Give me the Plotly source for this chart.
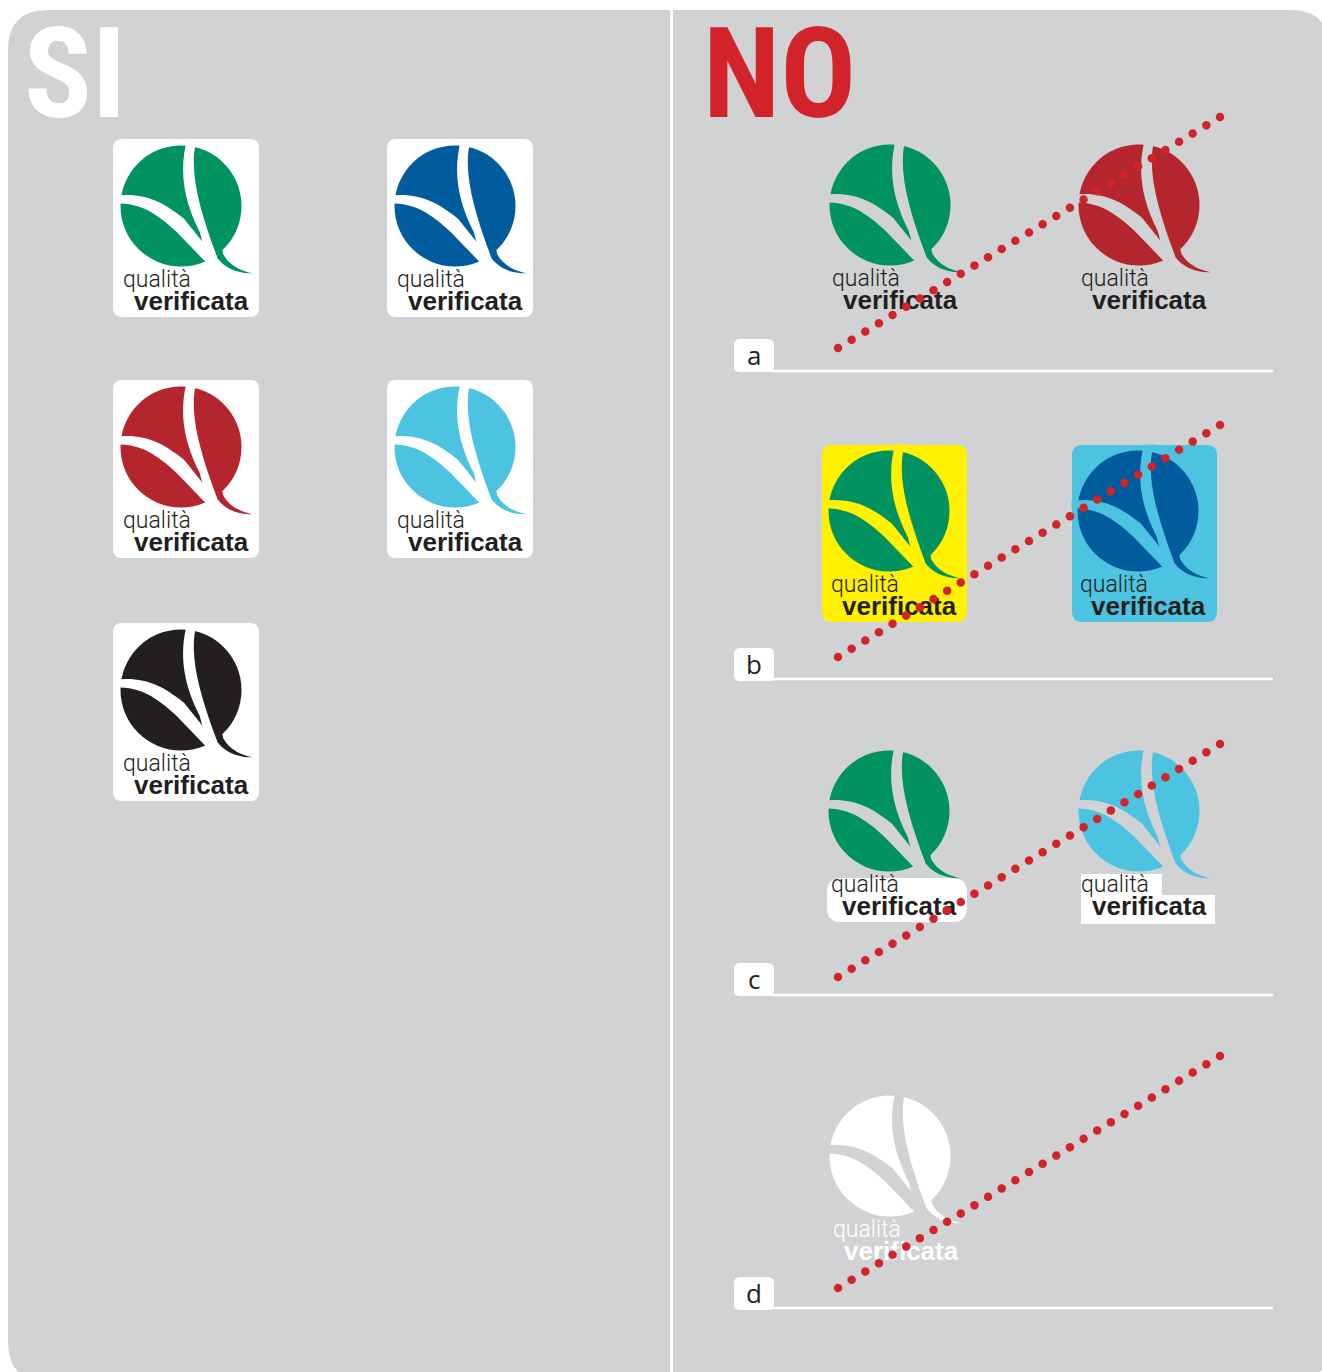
import numpy as np
import plotly.graph_objects as go

W, H = 1322, 1372

# ---------------- data ----------------
titles = ["SI", "NO"]
logo_words = ["qualità", "verificata"]
si_colors = ["#00925f", "#005c9c", "#b5252e", "#4cc3e0", "#231f20"]
no_labels = ["a", "b", "c", "d"]
no_left_colors = ["#00925f", "#00925f", "#00925f", "#ffffff"]
no_right_colors = ["#b5252e", "#005c9c", "#4cc3e0", None]
dots_per_stroke = [29, 29, 29, 29]

# ---------------- styles / layout constants ----------------
GREY = "#d1d2d4"
WHITE = "#ffffff"
DARK = "#231f20"
RED = "#d2232a"
YELLOW = "#fff100"
LBLUE = "#4cc3e0"
R = 60.5
TITLE_FONT = "Roboto Condensed, Liberation Sans Narrow, DejaVu Sans Condensed, sans-serif"

shapes = []


def rrect(x0, y0, x1, y1, r):
    return (f"M{x0+r},{y0} L{x1-r},{y0} Q{x1},{y0} {x1},{y0+r} L{x1},{y1-r} "
            f"Q{x1},{y1} {x1-r},{y1} L{x0+r},{y1} Q{x0},{y1} {x0},{y1-r} "
            f"L{x0},{y0+r} Q{x0},{y0} {x0+r},{y0} Z")


def add_path(path, color):
    shapes.append(dict(type="path", path=path, fillcolor=color, line=dict(width=0),
                       layer="below", xref="x", yref="y"))


def norm_path(cx, cy, r, cmds):
    out = []
    for c in cmds:
        if isinstance(c, str):
            out.append(c)
        else:
            out.append(f"{cx + c[0]*r:.2f},{cy + c[1]*r:.2f}")
    return " ".join(out)


BAND_A = ["M", (-1.1, -0.17), "C", (-0.6, -0.23), (-0.3, -0.07), (0.05, 0.21),
          "L", (0.66, 0.97), "L", (0.45, 0.97), "L", (-0.08, 0.42),
          "C", (-0.4, 0.13), (-0.65, -0.05), (-1.1, -0.045), "Z"]
BAND_B = ["M", (0.1, -1.1), "C", (-0.03, -0.6), (0.03, -0.12), (0.31, 0.43),
          "L", (0.45, 0.97), "L", (0.66, 0.97), "L", (0.6, 0.85),
          "C", (0.3, 0.05), (0.12, -0.6), (0.26, -1.1), "Z"]
TAIL = ["M", (0.6, 0.86), "C", (0.72, 1.02), (0.92, 1.12), (1.18, 1.11),
        "C", (0.98, 1.07), (0.8, 0.98), (0.7, 0.8), "L", (0.68, 0.72), "L", (0.58, 0.78), "Z"]


def logo(cx, cy, color, cut):
    shapes.append(dict(type="circle", x0=cx - R, y0=cy - R, x1=cx + R, y1=cy + R,
                       fillcolor=color, line=dict(width=0), layer="below",
                       xref="x", yref="y"))
    add_path(norm_path(cx, cy, R, BAND_A), cut)
    add_path(norm_path(cx, cy, R, BAND_B), cut)
    add_path(norm_path(cx, cy, R, TAIL), color)


# background panel
add_path(rrect(8, 10, 1330, 1382, 40), GREY)
shapes.append(dict(type="line", x0=671.5, x1=671.5, y0=10, y1=1372,
                   line=dict(color=WHITE, width=3), layer="below", xref="x", yref="y"))

text_q = dict(x=[], y=[], c=[])
text_v = dict(x=[], y=[], c=[])


def logo_text(cx, cy, color):
    text_q["x"].append(cx - 58); text_q["y"].append(cy + 75); text_q["c"].append(color)
    text_v["x"].append(cx - 47); text_v["y"].append(cy + 97); text_v["c"].append(color)


# SI cards
si_cards = [(113, 139), (387, 139), (113, 380), (387, 380), (113, 623)]
for (x0, y0), col in zip(si_cards, si_colors):
    add_path(rrect(x0, y0, x0 + 146, y0 + 178, 9), WHITE)
    logo(x0 + 68, y0 + 67, col, WHITE)
    logo_text(x0 + 68, y0 + 67, DARK)

# NO rows
row_cy = [205, 511, 811, 1156]
label_y = [339, 648, 963, 1277]
line_y = [371, 679, 995, 1308]
strokes = [((838, 348), (1220, 117)), ((838, 657), (1220, 425)),
           ((838, 977), (1220, 744)), ((838, 1288), (1220, 1056))]
LX, RX = 890, 1139

for i, lab in enumerate(no_labels):
    cy = row_cy[i]
    if i == 1:
        add_path(rrect(822, 445, 967, 622, 10), YELLOW)
        add_path(rrect(1072, 445, 1217, 622, 10), LBLUE)
        logo(LX - 1, cy, no_left_colors[i], YELLOW)
        logo_text(LX - 1, cy, DARK)
        logo(RX - 1, cy, no_right_colors[i], LBLUE)
        logo_text(RX - 1, cy, DARK)
    elif i == 2:
        add_path(rrect(827, 878, 967, 922, 14), WHITE)
        shapes.append(dict(type="rect", x0=1081, x1=1162, y0=874, y1=896, fillcolor=WHITE,
                           line=dict(width=0), layer="below", xref="x", yref="y"))
        shapes.append(dict(type="rect", x0=1081, x1=1215, y0=895, y1=924, fillcolor=WHITE,
                           line=dict(width=0), layer="below", xref="x", yref="y"))
        logo(LX - 1, cy, no_left_colors[i], GREY)
        logo_text(LX - 1, cy, DARK)
        logo(RX, cy, no_right_colors[i], GREY)
        logo_text(RX, cy, DARK)
    elif i == 3:
        logo(LX, cy, no_left_colors[i], GREY)
        logo_text(LX + 1, cy, WHITE)
    else:
        logo(LX, cy, no_left_colors[i], GREY)
        logo_text(LX, cy, DARK)
        logo(RX, cy, no_right_colors[i], GREY)
        logo_text(RX, cy, DARK)
    # label tab + rule
    ly = label_y[i]
    add_path(rrect(734, ly, 774, ly + 33, 6), WHITE)
    shapes.append(dict(type="line", x0=770, x1=1273, y0=line_y[i], y1=line_y[i],
                       line=dict(color=WHITE, width=2.5), layer="below", xref="x", yref="y"))

fig = go.Figure()

fig.add_trace(go.Scatter(
    x=text_q["x"], y=text_q["y"], mode="text", text=[logo_words[0]] * len(text_q["x"]),
    textposition="middle right",
    textfont=dict(family="Roboto Light, Lato Light, Roboto, sans-serif", size=23, weight=300,
                  color=text_q["c"]),
    hoverinfo="skip", showlegend=False))
fig.add_trace(go.Scatter(
    x=text_v["x"], y=text_v["y"], mode="text", text=[logo_words[1]] * len(text_v["x"]),
    textposition="middle right",
    textfont=dict(family="Liberation Sans, Arial, sans-serif", size=26, weight="bold",
                  color=text_v["c"]),
    hoverinfo="skip", showlegend=False))

# dotted "crossed out" strokes
dx, dy = [], []
for ((x0, y0), (x1, y1)), n in zip(strokes, dots_per_stroke):
    dx += list(np.linspace(x0, x1, n))
    dy += list(np.linspace(y0, y1, n))
fig.add_trace(go.Scatter(x=dx, y=dy, mode="markers",
                         marker=dict(size=8.5, color=RED, line=dict(width=0)),
                         hoverinfo="skip", showlegend=False))

annotations = [
    dict(x=22, y=74, text=titles[0], xanchor="left", yanchor="middle", showarrow=False,
         font=dict(family=TITLE_FONT, size=126, color=WHITE, weight="bold")),
    dict(x=701, y=74, text=titles[1], xanchor="left", yanchor="middle", showarrow=False,
         font=dict(family=TITLE_FONT, size=126, color=RED, weight="bold")),
]
for i, lab in enumerate(no_labels):
    annotations.append(dict(x=754, y=label_y[i] + 16, text=lab, xanchor="center",
                            yanchor="middle", showarrow=False,
                            font=dict(family="Open Sans, sans-serif", size=26, color=DARK)))

fig.update_layout(
    width=W, height=H, autosize=False,
    margin=dict(l=0, r=0, t=0, b=0, pad=0),
    paper_bgcolor=WHITE, plot_bgcolor=WHITE,
    xaxis=dict(range=[0, W], visible=False, fixedrange=True),
    yaxis=dict(range=[H, 0], visible=False, fixedrange=True),
    shapes=shapes, annotations=annotations, showlegend=False,
)

fig.write_html("out.html", config=dict(displayModeBar=False),
               post_script="document.body.style.margin='0';document.body.style.overflow='hidden';")
